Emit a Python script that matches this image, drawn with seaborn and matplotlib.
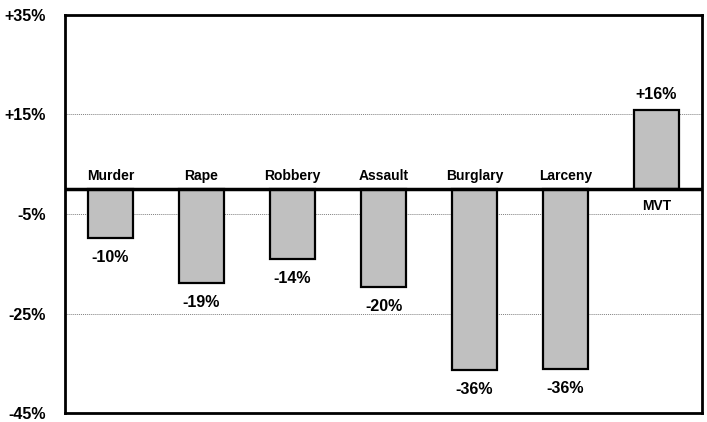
import pandas as pd
import numpy as np
import matplotlib.pyplot as plt
import seaborn as sb

crimes = ["Murder", "Rape", "Robbery", "Assault", "Burglary", "Larceny", "MVT"]
change = [-10, -19, -14, -20, -36, -36, 16]
bar_len = [-9.9, -18.9, -14.1, -19.7, -36.3, -36.1, 15.9]
yticks = [-45, -25, -5, 15, 35]
ytick_labels = ["-45%", "-25%", "-5%", "+15%", "+35%"]

df = pd.DataFrame({"Crime": crimes, "Change": bar_len})

sb.set_style("white")
plt.rcParams['font.family'] = ['Liberation Sans', 'DejaVu Sans']
plt.rcParams['text.color'] = 'black'
plt.rcParams['ytick.color'] = 'black'

fig = plt.figure(figsize=(7.07, 4.22), dpi=100)
ax = fig.add_axes([65/707, 9/422, 637/707, 398/422])

for t in [-25, -5, 15]:
    ax.axhline(t, color="#808080", lw=0.7, ls=(0, (1, 1)), zorder=0)

sb.barplot(data=df, x="Crime", y="Change", color="#C0C0C0", saturation=1,
           edgecolor="black", linewidth=1.6, width=0.5, ax=ax, zorder=2)

ax.axhline(0, color="black", lw=2.5, zorder=3)

for i, (name, v, L) in enumerate(zip(crimes, change, bar_len)):
    lab = ("+%d%%" % v) if v > 0 else ("%d%%" % v)
    if v < 0:
        ax.text(i, 1.3, name, ha="center", va="bottom", fontsize=10, fontweight="bold")
        ax.text(i, L - 2.4, lab, ha="center", va="top", fontsize=11.5, fontweight="bold")
    else:
        ax.text(i, -2.0, name, ha="center", va="top", fontsize=10, fontweight="bold")
        ax.text(i, L + 1.6, lab, ha="center", va="bottom", fontsize=11.5, fontweight="bold")

ax.set_ylim(-45, 35)
ax.set_xlim(-0.5, 6.5)
ax.set_yticks(yticks)
ax.set_yticklabels(ytick_labels, fontsize=11.5, fontweight="bold")
ax.set_xticks([])
ax.set_xlabel("")
ax.set_ylabel("")
ax.tick_params(axis="y", length=0, pad=14)
for s in ax.spines.values():
    s.set_visible(True)
    s.set_color("black")
    s.set_linewidth(2)

fig.savefig("out.png", dpi=100)
